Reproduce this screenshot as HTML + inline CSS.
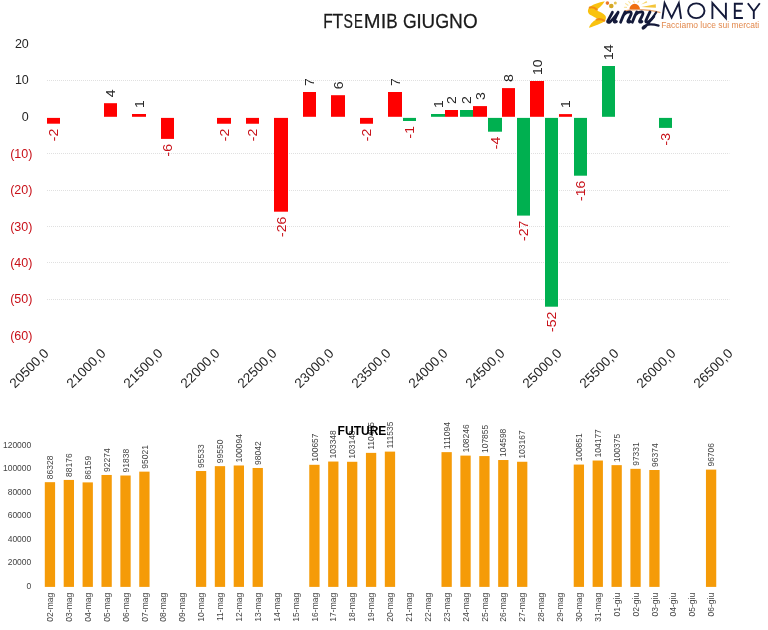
<!DOCTYPE html>
<html><head><meta charset="utf-8"><style>
html,body{margin:0;padding:0;background:#fff;width:768px;height:630px;overflow:hidden}
svg{display:block;will-change:transform}
text{font-family:"Liberation Sans", sans-serif}
.dl{font-size:13px;fill:#262626}
.yl{font-size:12.5px;fill:#262626}
.xl{font-size:13.5px;fill:#262626}
.bl{font-size:8.5px;fill:#444444}
.ft{font-size:12px;font-weight:bold;fill:#000}
.neg{fill:#c81018}
.ti{font-size:20px;fill:#1a1a1a;stroke:#1a1a1a;stroke-width:0.25px}
</style></head><body>
<svg width="768" height="630" viewBox="0 0 768 630">
<line x1="47" y1="80.5" x2="729.5" y2="80.5" stroke="#e0e0e0" stroke-width="1" stroke-dasharray="1 1"/>
<line x1="47" y1="153.5" x2="729.5" y2="153.5" stroke="#e0e0e0" stroke-width="1" stroke-dasharray="1 1"/>
<line x1="47" y1="190.5" x2="729.5" y2="190.5" stroke="#e0e0e0" stroke-width="1" stroke-dasharray="1 1"/>
<line x1="47" y1="226.5" x2="729.5" y2="226.5" stroke="#e0e0e0" stroke-width="1" stroke-dasharray="1 1"/>
<line x1="47" y1="262.5" x2="729.5" y2="262.5" stroke="#e0e0e0" stroke-width="1" stroke-dasharray="1 1"/>
<line x1="47" y1="299.5" x2="729.5" y2="299.5" stroke="#e0e0e0" stroke-width="1" stroke-dasharray="1 1"/>
<rect x="47.00" y="117.90" width="13.00" height="5.80" fill="#ff0000"/>
<text transform="translate(58.40,128.70) rotate(-90) scale(1.08,1)" class="dl neg" text-anchor="end">-2</text>
<rect x="104.00" y="103.20" width="13.00" height="13.60" fill="#ff0000"/>
<text transform="translate(115.40,97.20) rotate(-90) scale(1.08,1)" class="dl">4</text>
<rect x="132.00" y="114.00" width="14.00" height="2.80" fill="#ff0000"/>
<text transform="translate(143.90,108.00) rotate(-90) scale(1.08,1)" class="dl">1</text>
<rect x="161.00" y="117.90" width="13.00" height="21.00" fill="#ff0000"/>
<text transform="translate(172.40,143.90) rotate(-90) scale(1.08,1)" class="dl neg" text-anchor="end">-6</text>
<rect x="217.00" y="117.90" width="14.00" height="5.85" fill="#ff0000"/>
<text transform="translate(228.90,128.75) rotate(-90) scale(1.08,1)" class="dl neg" text-anchor="end">-2</text>
<rect x="246.00" y="117.90" width="13.00" height="5.85" fill="#ff0000"/>
<text transform="translate(257.40,128.75) rotate(-90) scale(1.08,1)" class="dl neg" text-anchor="end">-2</text>
<rect x="274.00" y="117.90" width="14.00" height="93.80" fill="#ff0000"/>
<text transform="translate(285.90,216.70) rotate(-90) scale(1.08,1)" class="dl neg" text-anchor="end">-26</text>
<rect x="303.00" y="92.00" width="13.00" height="24.80" fill="#ff0000"/>
<text transform="translate(314.40,86.00) rotate(-90) scale(1.08,1)" class="dl">7</text>
<rect x="331.00" y="95.20" width="14.00" height="21.60" fill="#ff0000"/>
<text transform="translate(342.90,89.20) rotate(-90) scale(1.08,1)" class="dl">6</text>
<rect x="360.00" y="117.90" width="13.00" height="5.85" fill="#ff0000"/>
<text transform="translate(371.40,128.75) rotate(-90) scale(1.08,1)" class="dl neg" text-anchor="end">-2</text>
<rect x="388.00" y="92.00" width="14.00" height="24.80" fill="#ff0000"/>
<text transform="translate(399.90,86.00) rotate(-90) scale(1.08,1)" class="dl">7</text>
<rect x="445.00" y="110.00" width="13.00" height="6.80" fill="#ff0000"/>
<text transform="translate(456.40,104.00) rotate(-90) scale(1.08,1)" class="dl">2</text>
<rect x="473.00" y="106.10" width="14.00" height="10.70" fill="#ff0000"/>
<text transform="translate(484.90,100.10) rotate(-90) scale(1.08,1)" class="dl">3</text>
<rect x="502.00" y="88.10" width="13.00" height="28.70" fill="#ff0000"/>
<text transform="translate(513.40,82.10) rotate(-90) scale(1.08,1)" class="dl">8</text>
<rect x="530.00" y="81.00" width="14.00" height="35.80" fill="#ff0000"/>
<text transform="translate(541.90,75.00) rotate(-90) scale(1.08,1)" class="dl">10</text>
<rect x="559.00" y="114.10" width="13.00" height="2.70" fill="#ff0000"/>
<text transform="translate(570.40,108.10) rotate(-90) scale(1.08,1)" class="dl">1</text>
<rect x="403.00" y="117.90" width="13.00" height="3.10" fill="#00b050"/>
<text transform="translate(414.40,126.00) rotate(-90) scale(1.08,1)" class="dl neg" text-anchor="end">-1</text>
<rect x="431.00" y="114.00" width="14.00" height="2.80" fill="#00b050"/>
<text transform="translate(442.90,108.00) rotate(-90) scale(1.08,1)" class="dl">1</text>
<rect x="460.00" y="110.00" width="13.00" height="6.80" fill="#00b050"/>
<text transform="translate(471.40,104.00) rotate(-90) scale(1.08,1)" class="dl">2</text>
<rect x="488.00" y="117.90" width="14.00" height="13.80" fill="#00b050"/>
<text transform="translate(499.90,136.70) rotate(-90) scale(1.08,1)" class="dl neg" text-anchor="end">-4</text>
<rect x="517.00" y="117.90" width="13.00" height="97.70" fill="#00b050"/>
<text transform="translate(528.40,220.60) rotate(-90) scale(1.08,1)" class="dl neg" text-anchor="end">-27</text>
<rect x="545.00" y="117.90" width="13.00" height="188.80" fill="#00b050"/>
<text transform="translate(556.40,311.70) rotate(-90) scale(1.08,1)" class="dl neg" text-anchor="end">-52</text>
<rect x="574.00" y="117.90" width="13.00" height="57.80" fill="#00b050"/>
<text transform="translate(585.40,180.70) rotate(-90) scale(1.08,1)" class="dl neg" text-anchor="end">-16</text>
<rect x="602.00" y="66.00" width="13.00" height="50.80" fill="#00b050"/>
<text transform="translate(613.40,60.00) rotate(-90) scale(1.08,1)" class="dl">14</text>
<rect x="659.00" y="117.90" width="13.00" height="10.00" fill="#00b050"/>
<text transform="translate(670.40,132.90) rotate(-90) scale(1.08,1)" class="dl neg" text-anchor="end">-3</text>
<text x="28.8" y="48.00" class="yl" text-anchor="end">20</text>
<text x="28.8" y="84.30" class="yl" text-anchor="end">10</text>
<text x="28.8" y="120.60" class="yl" text-anchor="end">0</text>
<text x="32.4" y="158.15" class="yl neg" text-anchor="end">(10)</text>
<text x="32.4" y="194.45" class="yl neg" text-anchor="end">(20)</text>
<text x="32.4" y="230.75" class="yl neg" text-anchor="end">(30)</text>
<text x="32.4" y="267.05" class="yl neg" text-anchor="end">(40)</text>
<text x="32.4" y="303.35" class="yl neg" text-anchor="end">(50)</text>
<text x="32.4" y="339.65" class="yl neg" text-anchor="end">(60)</text>
<text transform="translate(49.60,354.20) rotate(-45)" class="xl" text-anchor="end">20500,0</text>
<text transform="translate(106.60,354.20) rotate(-45)" class="xl" text-anchor="end">21000,0</text>
<text transform="translate(163.60,354.20) rotate(-45)" class="xl" text-anchor="end">21500,0</text>
<text transform="translate(220.60,354.20) rotate(-45)" class="xl" text-anchor="end">22000,0</text>
<text transform="translate(277.60,354.20) rotate(-45)" class="xl" text-anchor="end">22500,0</text>
<text transform="translate(334.60,354.20) rotate(-45)" class="xl" text-anchor="end">23000,0</text>
<text transform="translate(391.60,354.20) rotate(-45)" class="xl" text-anchor="end">23500,0</text>
<text transform="translate(448.60,354.20) rotate(-45)" class="xl" text-anchor="end">24000,0</text>
<text transform="translate(505.60,354.20) rotate(-45)" class="xl" text-anchor="end">24500,0</text>
<text transform="translate(562.60,354.20) rotate(-45)" class="xl" text-anchor="end">25000,0</text>
<text transform="translate(619.60,354.20) rotate(-45)" class="xl" text-anchor="end">25500,0</text>
<text transform="translate(676.60,354.20) rotate(-45)" class="xl" text-anchor="end">26000,0</text>
<text transform="translate(733.60,354.20) rotate(-45)" class="xl" text-anchor="end">26500,0</text>
<rect x="44.80" y="482.18" width="10.3" height="104.72" fill="#f59b08"/>
<text transform="translate(53.05,479.18) rotate(-90)" class="bl">86328</text>
<text transform="translate(53.05,592.80) rotate(-90)" class="bl" text-anchor="end">02-mag</text>
<rect x="63.69" y="479.94" width="10.3" height="106.96" fill="#f59b08"/>
<text transform="translate(71.94,476.94) rotate(-90)" class="bl">88176</text>
<text transform="translate(71.94,592.80) rotate(-90)" class="bl" text-anchor="end">03-mag</text>
<rect x="82.58" y="482.39" width="10.3" height="104.51" fill="#f59b08"/>
<text transform="translate(90.83,479.39) rotate(-90)" class="bl">86159</text>
<text transform="translate(90.83,592.80) rotate(-90)" class="bl" text-anchor="end">04-mag</text>
<rect x="101.47" y="474.97" width="10.3" height="111.93" fill="#f59b08"/>
<text transform="translate(109.72,471.97) rotate(-90)" class="bl">92274</text>
<text transform="translate(109.72,592.80) rotate(-90)" class="bl" text-anchor="end">05-mag</text>
<rect x="120.36" y="475.50" width="10.3" height="111.40" fill="#f59b08"/>
<text transform="translate(128.61,472.50) rotate(-90)" class="bl">91838</text>
<text transform="translate(128.61,592.80) rotate(-90)" class="bl" text-anchor="end">06-mag</text>
<rect x="139.25" y="471.64" width="10.3" height="115.26" fill="#f59b08"/>
<text transform="translate(147.50,468.64) rotate(-90)" class="bl">95021</text>
<text transform="translate(147.50,592.80) rotate(-90)" class="bl" text-anchor="end">07-mag</text>
<text transform="translate(166.39,592.80) rotate(-90)" class="bl" text-anchor="end">08-mag</text>
<text transform="translate(185.28,592.80) rotate(-90)" class="bl" text-anchor="end">09-mag</text>
<rect x="195.92" y="471.02" width="10.3" height="115.88" fill="#f59b08"/>
<text transform="translate(204.17,468.02) rotate(-90)" class="bl">95533</text>
<text transform="translate(204.17,592.80) rotate(-90)" class="bl" text-anchor="end">10-mag</text>
<rect x="214.81" y="466.15" width="10.3" height="120.75" fill="#f59b08"/>
<text transform="translate(223.06,463.15) rotate(-90)" class="bl">99550</text>
<text transform="translate(223.06,592.80) rotate(-90)" class="bl" text-anchor="end">11-mag</text>
<rect x="233.70" y="465.49" width="10.3" height="121.41" fill="#f59b08"/>
<text transform="translate(241.95,462.49) rotate(-90)" class="bl">100094</text>
<text transform="translate(241.95,592.80) rotate(-90)" class="bl" text-anchor="end">12-mag</text>
<rect x="252.59" y="467.98" width="10.3" height="118.92" fill="#f59b08"/>
<text transform="translate(260.84,464.98) rotate(-90)" class="bl">98042</text>
<text transform="translate(260.84,592.80) rotate(-90)" class="bl" text-anchor="end">13-mag</text>
<text transform="translate(279.73,592.80) rotate(-90)" class="bl" text-anchor="end">14-mag</text>
<text transform="translate(298.62,592.80) rotate(-90)" class="bl" text-anchor="end">15-mag</text>
<rect x="309.26" y="464.80" width="10.3" height="122.10" fill="#f59b08"/>
<text transform="translate(317.51,461.80) rotate(-90)" class="bl">100657</text>
<text transform="translate(317.51,592.80) rotate(-90)" class="bl" text-anchor="end">16-mag</text>
<rect x="328.15" y="461.54" width="10.3" height="125.36" fill="#f59b08"/>
<text transform="translate(336.40,458.54) rotate(-90)" class="bl">103348</text>
<text transform="translate(336.40,592.80) rotate(-90)" class="bl" text-anchor="end">17-mag</text>
<rect x="347.04" y="461.78" width="10.3" height="125.12" fill="#f59b08"/>
<text transform="translate(355.29,458.78) rotate(-90)" class="bl">103148</text>
<text transform="translate(355.29,592.80) rotate(-90)" class="bl" text-anchor="end">18-mag</text>
<rect x="365.93" y="452.87" width="10.3" height="134.03" fill="#f59b08"/>
<text transform="translate(374.18,449.87) rotate(-90)" class="bl">110495</text>
<text transform="translate(374.18,592.80) rotate(-90)" class="bl" text-anchor="end">19-mag</text>
<rect x="384.82" y="451.61" width="10.3" height="135.29" fill="#f59b08"/>
<text transform="translate(393.07,448.61) rotate(-90)" class="bl">111535</text>
<text transform="translate(393.07,592.80) rotate(-90)" class="bl" text-anchor="end">20-mag</text>
<text transform="translate(411.96,592.80) rotate(-90)" class="bl" text-anchor="end">21-mag</text>
<text transform="translate(430.85,592.80) rotate(-90)" class="bl" text-anchor="end">22-mag</text>
<rect x="441.49" y="452.14" width="10.3" height="134.76" fill="#f59b08"/>
<text transform="translate(449.74,449.14) rotate(-90)" class="bl">111094</text>
<text transform="translate(449.74,592.80) rotate(-90)" class="bl" text-anchor="end">23-mag</text>
<rect x="460.38" y="455.60" width="10.3" height="131.30" fill="#f59b08"/>
<text transform="translate(468.63,452.60) rotate(-90)" class="bl">108246</text>
<text transform="translate(468.63,592.80) rotate(-90)" class="bl" text-anchor="end">24-mag</text>
<rect x="479.27" y="456.07" width="10.3" height="130.83" fill="#f59b08"/>
<text transform="translate(487.52,453.07) rotate(-90)" class="bl">107855</text>
<text transform="translate(487.52,592.80) rotate(-90)" class="bl" text-anchor="end">25-mag</text>
<rect x="498.16" y="460.02" width="10.3" height="126.88" fill="#f59b08"/>
<text transform="translate(506.41,457.02) rotate(-90)" class="bl">104598</text>
<text transform="translate(506.41,592.80) rotate(-90)" class="bl" text-anchor="end">26-mag</text>
<rect x="517.05" y="461.76" width="10.3" height="125.14" fill="#f59b08"/>
<text transform="translate(525.30,458.76) rotate(-90)" class="bl">103167</text>
<text transform="translate(525.30,592.80) rotate(-90)" class="bl" text-anchor="end">27-mag</text>
<text transform="translate(544.19,592.80) rotate(-90)" class="bl" text-anchor="end">28-mag</text>
<text transform="translate(563.08,592.80) rotate(-90)" class="bl" text-anchor="end">29-mag</text>
<rect x="573.72" y="464.57" width="10.3" height="122.33" fill="#f59b08"/>
<text transform="translate(581.97,461.57) rotate(-90)" class="bl">100851</text>
<text transform="translate(581.97,592.80) rotate(-90)" class="bl" text-anchor="end">30-mag</text>
<rect x="592.61" y="460.53" width="10.3" height="126.37" fill="#f59b08"/>
<text transform="translate(600.86,457.53) rotate(-90)" class="bl">104177</text>
<text transform="translate(600.86,592.80) rotate(-90)" class="bl" text-anchor="end">31-mag</text>
<rect x="611.50" y="465.15" width="10.3" height="121.75" fill="#f59b08"/>
<text transform="translate(619.75,462.15) rotate(-90)" class="bl">100375</text>
<text transform="translate(619.75,592.80) rotate(-90)" class="bl" text-anchor="end">01-giu</text>
<rect x="630.39" y="468.84" width="10.3" height="118.06" fill="#f59b08"/>
<text transform="translate(638.64,465.84) rotate(-90)" class="bl">97331</text>
<text transform="translate(638.64,592.80) rotate(-90)" class="bl" text-anchor="end">02-giu</text>
<rect x="649.28" y="470.00" width="10.3" height="116.90" fill="#f59b08"/>
<text transform="translate(657.53,467.00) rotate(-90)" class="bl">96374</text>
<text transform="translate(657.53,592.80) rotate(-90)" class="bl" text-anchor="end">03-giu</text>
<text transform="translate(676.42,592.80) rotate(-90)" class="bl" text-anchor="end">04-giu</text>
<text transform="translate(695.31,592.80) rotate(-90)" class="bl" text-anchor="end">05-giu</text>
<rect x="705.95" y="469.60" width="10.3" height="117.30" fill="#f59b08"/>
<text transform="translate(714.20,466.60) rotate(-90)" class="bl">96706</text>
<text transform="translate(714.20,592.80) rotate(-90)" class="bl" text-anchor="end">06-giu</text>
<text x="31.3" y="588.90" class="bl" text-anchor="end">0</text>
<text x="31.3" y="565.35" class="bl" text-anchor="end">20000</text>
<text x="31.3" y="541.80" class="bl" text-anchor="end">40000</text>
<text x="31.3" y="518.25" class="bl" text-anchor="end">60000</text>
<text x="31.3" y="494.70" class="bl" text-anchor="end">80000</text>
<text x="31.3" y="471.15" class="bl" text-anchor="end">100000</text>
<text x="31.3" y="447.60" class="bl" text-anchor="end">120000</text>
<text x="337.6" y="435.2" class="ft" textLength="48.8" lengthAdjust="spacingAndGlyphs">FUTURE</text>
<text transform="translate(323.32,27.7) scale(0.777,1)" class="ti">F</text>
<text transform="translate(332.51,27.7) scale(0.875,1)" class="ti">T</text>
<text transform="translate(343.46,27.7) scale(0.704,1)" class="ti">S</text>
<text transform="translate(354.01,27.7) scale(0.664,1)" class="ti">E</text>
<text transform="translate(363.74,27.7) scale(1.009,1)" class="ti">M</text>
<text transform="translate(380.75,27.7) scale(1.000,1)" class="ti">I</text>
<text transform="translate(386.20,27.7) scale(0.855,1)" class="ti">B</text>
<text transform="translate(403.01,27.7) scale(0.881,1)" class="ti">G</text>
<text transform="translate(416.15,27.7) scale(1.000,1)" class="ti">I</text>
<text transform="translate(421.45,27.7) scale(0.942,1)" class="ti">U</text>
<text transform="translate(435.20,27.7) scale(0.896,1)" class="ti">G</text>
<text transform="translate(448.93,27.7) scale(0.958,1)" class="ti">N</text>
<text transform="translate(463.00,27.7) scale(0.945,1)" class="ti">O</text>

<g id="logo">
  <path d="M604.8,1.2 C599,2.3 592,4.4 589.2,7.6 C587.2,10 587.6,13.2 590,14.7 C592.5,16.2 596,17.6 597.8,18.8 C594.2,20.4 590.4,23.2 589,27.8 C591.8,26.9 598.5,24.9 604.3,21.5 C606.2,19.8 606.3,17.2 605.4,15.8 C603.6,13.4 599.2,11.6 595.8,10.1 C598.6,8.4 602.2,5.4 604.8,1.2 Z" fill="#f9c20f"/>
  <path d="M589.8,7.6 C592,6.9 595,7.8 596.9,9.7" fill="none" stroke="#ef8812" stroke-width="2.1" stroke-linecap="round" opacity="0.9"/>
  <path d="M596.6,19.5 C599,18.8 602,19.3 604.3,20.6" fill="none" stroke="#ef8812" stroke-width="2.1" stroke-linecap="round" opacity="0.9"/>
  <circle cx="607.4" cy="3.1" r="1.8" fill="#ec7628"/>
  <circle cx="611.3" cy="6.0" r="2.3" fill="#d4a826"/>
  <circle cx="615.3" cy="3.1" r="1.5" fill="#e6c24e"/>
  <path d="M629.4,9.6 A5.3,5.8 0 0 1 640,9.6 Z" fill="#f06e0e"/>
  <g stroke="#f9e39a" stroke-width="1.1" stroke-linecap="round">
    <path d="M624.4,7.3 L626.5,7.4"/><path d="M625.6,3.6 L628,5.2"/><path d="M628.7,1.5 L630.2,3.2"/><path d="M633.4,1.1 L634.3,2.4"/><path d="M638.8,1.1 L637.8,2.4"/>
  </g>
  <path d="M641,4.6 L646.5,1 L647.3,2.4 Z" fill="#f7d66a"/>
  <path d="M641.3,7 L655.8,4.3 L655.9,7.8 Z" fill="#f4c53a"/>
  <path d="M624.5,10.8 Q637,8.6 650,10.4 Q656,11.3 660.5,12.6" fill="none" stroke="#e9a169" stroke-width="1.3"/>
  <g fill="none" stroke="#141a3a" stroke-width="2.8" stroke-linecap="round" stroke-linejoin="round">
    <path d="M612.4,12.3 C610.5,16 608.5,19.5 607.7,21 C607.1,22.3 608.6,22.8 610,22 C612.5,20 615.5,16 618.1,12.3 M618.1,12.3 C616.5,15.5 614.8,19 614.3,20.8 C613.9,22.2 615,22.6 616.4,21.6"/>
    <path d="M620.6,22.3 C621.8,19 623.5,15 625.1,12 M623.8,14.8 C625.5,13 628,11.8 630.2,12 C631.6,12.2 631.4,13.6 630.8,15 C629.8,17.5 628.5,19.5 627.9,21 C627.5,22.3 628.8,22.6 630.2,21.6"/>
    <path d="M632.3,22.3 C633.5,19 635.2,15 636.8,12 M635.5,14.8 C637.2,13 639.7,11.8 641.9,12 C643.3,12.2 643.1,13.6 642.5,15 C641.5,17.5 640.2,19.5 639.6,21 C639.2,22.3 640.5,22.6 641.9,21.6"/>
    <path d="M650,11.9 C648.5,15 646.5,19 645.9,20.8 C645.4,22.3 647,22.7 648.5,21.8 C650.5,20.5 652.5,18.5 653.8,16.5"/>
    <path d="M656.2,12.3 C653.5,17 649,23 646,26.2 C644.5,27.8 643.2,29 642.7,28.4 C642.2,27.6 644.5,25.2 648.4,24.6 C652,24.1 655.5,24.8 658.6,25.6" stroke-width="2.2"/>
  </g>
  <g fill="none" stroke="#141a3a" stroke-width="1.9" stroke-linejoin="miter">
    <path d="M662.3,18.9 L664.6,3.1 L671.6,17.6 L678.8,3.1 L681.1,18.9"/>
    <ellipse cx="696.3" cy="10.75" rx="8.2" ry="7.35"/>
    <path d="M712.4,18.9 L712.4,3.1 L725.9,18.2 L725.9,2.7"/>
    <path d="M742.9,3.7 L734.8,3.7 L734.8,18 L742.9,18 M734.8,10.7 L741.6,10.7"/>
    <path d="M747.8,3.3 L753.8,11.2 L759.8,3.3 M753.8,11.2 L753.8,18.9"/>
  </g>
  <text x="661.2" y="28" textLength="98" lengthAdjust="spacingAndGlyphs" style="font-family:'Liberation Sans',sans-serif;font-size:9.3px;fill:#e2884c">Facciamo luce sui mercati</text>
</g>

</svg>
</body></html>
